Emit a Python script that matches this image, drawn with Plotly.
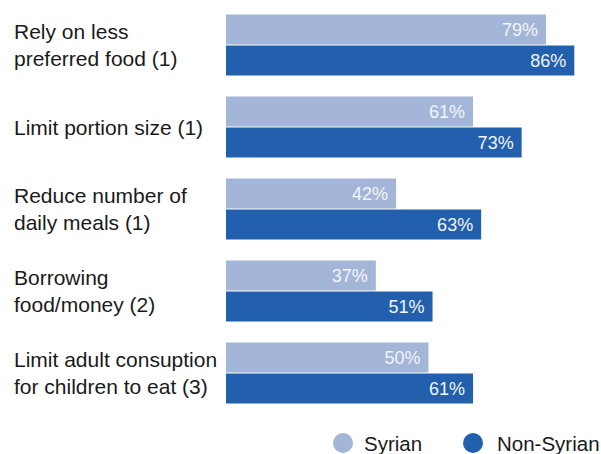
import plotly.graph_objects as go

categories = [
    "Rely on less<br>preferred food (1)",
    "Limit portion size (1)",
    "Reduce number of<br>daily meals (1)",
    "Borrowing<br>food/money (2)",
    "Limit adult consuption<br>for children to eat (3)",
]
syrian = [79, 61, 42, 37, 50]
non_syrian = [86, 73, 63, 51, 61]

series_names = ["Syrian", "Non-Syrian"]
series_colors = ["#A3B6D8", "#2260AE"]

FONT = "Arial, Liberation Sans, sans-serif"
W, H = 601, 454
LEFT, TOP, BOTTOM = 226, 4, 40
PLOT_W = W - LEFT
PLOT_H = H - TOP - BOTTOM
X_MAX = PLOT_W / 4.05


def px_x(px):
    return (px - LEFT) / PLOT_W


def px_y(py):
    return (H - BOTTOM - py) / PLOT_H


fig = go.Figure()
for name, vals, col in zip(series_names, [syrian, non_syrian], series_colors):
    fig.add_trace(go.Bar(
        y=list(range(len(categories))), x=vals, orientation="h", name=name,
        marker=dict(color=col, line=dict(width=0)),
        text=[f"{v}%\u00a0" for v in vals],
        textposition="inside", insidetextanchor="end",
        textfont=dict(family=FONT, size=18, color="#F2F4F8"),
        showlegend=False, hoverinfo="skip",
    ))

for i, lab in enumerate(categories):
    fig.add_annotation(
        x=px_x(12), xref="paper", xanchor="left",
        y=i, yref="y", yanchor="middle",
        text=lab, align="left", showarrow=False,
        font=dict(family=FONT, size=21, color="#1a1a1a"),
    )

# legend: circle swatch + label per series
legend_items = [(343, 362), (473, 495)]
for (cx, tx), name, col in zip(legend_items, series_names, series_colors):
    fig.add_shape(
        type="circle", xref="paper", yref="paper",
        xsizemode="pixel", ysizemode="pixel",
        xanchor=px_x(cx), yanchor=px_y(443),
        x0=-10, x1=10, y0=-10, y1=10,
        fillcolor=col, line=dict(width=0),
    )
    fig.add_annotation(
        x=px_x(tx), xref="paper", xanchor="left",
        y=px_y(443), yref="paper", yanchor="middle",
        text=name, showarrow=False,
        font=dict(family=FONT, size=20.5, color="#1a1a1a"),
    )

fig.update_layout(
    width=W, height=H,
    margin=dict(l=LEFT, r=0, t=TOP, b=BOTTOM),
    paper_bgcolor="white", plot_bgcolor="white",
    barmode="group", bargap=20 / 82, bargroupgap=1 / 31,
    xaxis=dict(range=[0, X_MAX], visible=False, fixedrange=True),
    yaxis=dict(range=[len(categories) - 0.5, -0.5], visible=False),
    showlegend=False,
    font=dict(family=FONT),
)

fig.write_html("out.html")
